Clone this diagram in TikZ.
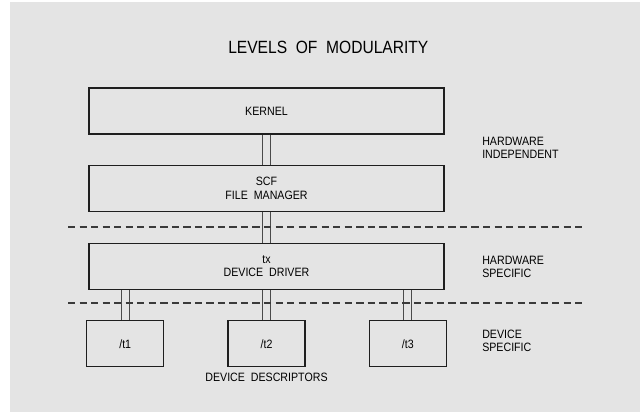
\documentclass[tikz,border=0pt]{standalone}
\usepackage{fontspec}
\setmainfont{Liberation Sans}[FakeStretch=0.88]
\usetikzlibrary{positioning}
\definecolor{modBg}{HTML}{E4E4E4}
\definecolor{modLine}{HTML}{1E1E1E}
\definecolor{modLink}{HTML}{4A4A4A}
\definecolor{modDash}{HTML}{3A3A3A}
\tikzset{
  layerBox/.style={rectangle, draw=modLine, line width=0.9pt, fill=modBg,
                   align=center, inner sep=0pt, minimum width=8.875cm,
                   minimum height=1.15cm, font=\fontsize{8.6}{9.4}\selectfont},
  descBox/.style={layerBox, minimum width=1.925cm},
  linkD/.style={draw=modLink, line width=0.7pt, double=modBg, double distance=5.2pt},
  sepLine/.style={draw=modDash, line width=0.8pt, dash pattern=on 5.2pt off 3pt},
  sideLabel/.style={anchor=west, align=left, inner sep=0pt,
                    font=\fontsize{8.6}{8.8}\selectfont},
}
\begin{document}
\begin{tikzpicture}[node distance=0.75cm and 1.575cm]
    \useasboundingbox (0,0) rectangle (16,-10.3);
    \fill[modBg] (0.25,-0.05) rectangle (16,-10.3);
    % title
    \node[anchor=west, inner sep=0pt, font=\fontsize{12.6}{15}\selectfont] (title)
      at (5.7,-1.175) {LEVELS\ \ OF\ \ MODULARITY};
    % layers
    \node[layerBox] (kernel) at (6.6625,-2.775) {KERNEL};
    \node[layerBox, below=of kernel] (scf) {SCF\\FILE\ \ MANAGER};
    \node[layerBox, below=0.775cm of scf] (tx) {tx\\DEVICE\ \ DRIVER};
    \node[descBox, below=of tx] (t2) {/t2};
    \node[descBox, left=of t2] (t1) {/t1};
    \node[descBox, right=of t2] (t3) {/t3};
    \node[inner sep=0pt, font=\fontsize{8.6}{9.4}\selectfont] (descs)
      at (6.6625,-9.425) {DEVICE\ \ DESCRIPTORS};
    % links
    \draw[linkD] (kernel.south) -- (scf.north);
    \draw[linkD] (scf.south) -- (tx.north);
    \draw[linkD] (t1.north) -- (t1.north |- tx.south);
    \draw[linkD] (t2.north) -- (tx.south);
    \draw[linkD] (t3.north) -- (t3.north |- tx.south);
    % level borders
    \draw[sepLine] (1.7,-5.675) -- (14.55,-5.675);
    \draw[sepLine] (1.7,-7.575) -- (14.55,-7.575);
    \node[sideLabel] (hwind) at (12.05,-3.7) {HARDWARE\\INDEPENDENT};
    \node[sideLabel] (hwspec) at (12.05,-6.675) {HARDWARE\\SPECIFIC};
    \node[sideLabel] (devspec) at (12.05,-8.525) {DEVICE\\SPECIFIC};
\end{tikzpicture}
\end{document}
